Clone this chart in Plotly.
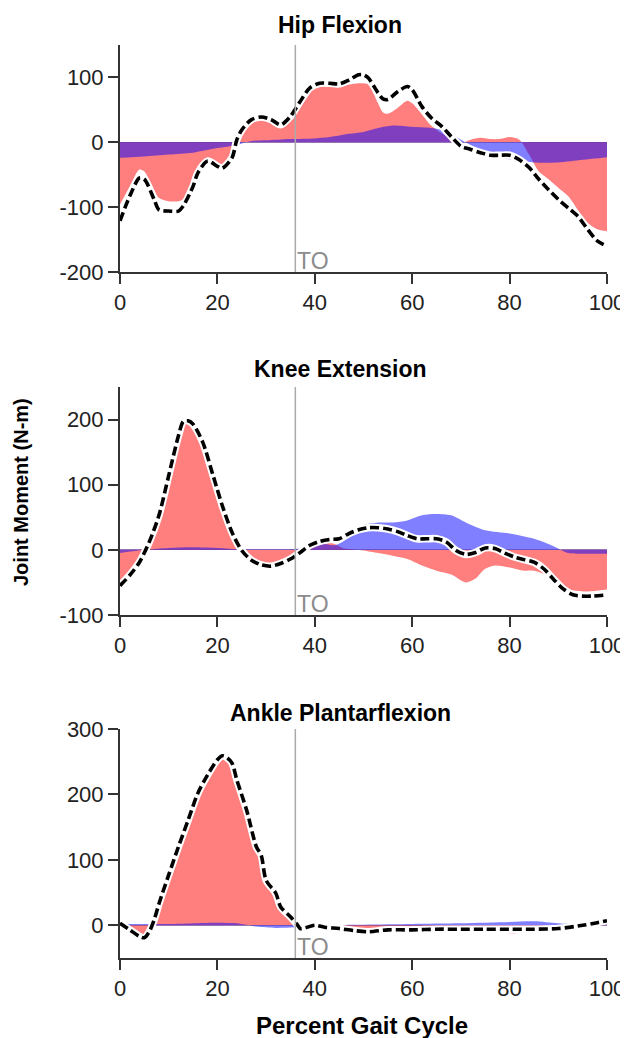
import plotly.graph_objects as go

# ---------------- data ----------------
x_ticks = [0, 20, 40, 60, 80, 100]
toe_off = 36

# Hip Flexion
hip_tot_x = [0,2,4,5,7,8,10,12,13,15,16,18,20,21,23,24,25,27,29,31,33,35,37,39,41,43,45,47,49,50,51,53,54,55,57,59,60,62,64,66,68,70,72,74,76,78,80,82,84,86,88,90,92,94,96,98,100]
hip_tot_y = [-121,-83,-55,-57,-88,-104,-106,-106,-98,-68,-47,-29,-37,-40,-24,4,19,35,39,35,27,40,63,84,91,91,90,96,104,104,99,76,67,66,78,86,81,55,37,25,9,-6,-11,-16,-20,-20,-20,-27,-39,-57,-73,-88,-101,-114,-134,-152,-160]
hip_red_x = [0,2,4,5,7,8,10,12,13,14,16,17,18,20,21,23,24,25,27,29,31,33,35,37,39,41,43,45,47,49,50,51,53,54,55,57,59,60,62,64,66,68,70,72,74,76,78,80,82,84,86,88,90,92,94,96,98,100]
hip_red_y = [-96,-68,-42,-45,-73,-86,-91,-91,-88,-80,-37,-29,-27,-32,-34,-19,4,22,37,39,35,27,37,60,81,88,86,85,89,91,91,89,60,46,44,53,64,60,43,25,14,7,-1,4,7,5,5,8,4,-19,-45,-57,-70,-83,-104,-124,-134,-137]
hip_blue_x = [0,5,10,15,20,24,27,30,35,40,43,47,50,53,56,60,64,67,70,72,75,78,82,85,90,95,100]
hip_blue_y = [-24,-22,-19,-16,-9,-4,2,3,5,6,8,13,16,22,26,24,22,17,4,-4,-14,-24,-28,-31,-31,-27,-23]
hip_ticks = [-200, -100, 0, 100]

# Knee Extension
knee_tot_x = [0,2,4,6,8,10,12,13,14,15,17,19,21,23,25,27,29,31,33,35,37,39,41,43,45,47,49,51,53,55,57,59,61,63,65,67,69,71,73,75,77,79,81,83,85,87,89,91,93,95,97,100]
knee_tot_y = [-55,-39,-19,12,53,114,175,197,198,193,165,117,68,27,-1,-16,-23,-25,-21,-14,-4,7,13,16,17,25,31,34,34,32,28,22,17,17,17,12,-1,-7,-4,3,2,-5,-11,-15,-19,-29,-45,-60,-69,-71,-71,-69]
knee_red_x = [0,2,4,6,8,10,12,13,14,15,17,19,21,23,25,27,29,31,33,35,37,38,40,42,44,46,48,50,53,56,59,62,65,68,71,73,75,77,80,83,85,87,89,91,93,96,100]
knee_red_y = [-50,-36,-18,10,50,110,171,194,195,189,161,114,65,25,-2,-17,-24,-26,-22,-15,-5,2,7,12,9,2,1,-1,-5,-9,-14,-24,-32,-38,-50,-44,-29,-24,-27,-32,-32,-37,-47,-57,-62,-64,-61]
knee_blue_x = [0,5,10,15,20,25,30,35,38,42,44,46,48,50,53,56,59,62,65,68,71,75,80,85,88,90,92,95,100]
knee_blue_y = [-5,0,3,4,3,1,1,1,3,9,7,14,30,38,42,42,45,53,55,53,42,30,25,17,9,2,-5,-6,-6]
knee_ticks = [-100, 0, 100, 200]

# Ankle Plantarflexion
ank_tot_x = [0,2,4,5,6,7,8,10,12,14,16,18,20,21,22,23,24,26,28,29,30,32,33,35,36.5,37,38,40,42,45,48,51,55,60,65,70,75,80,85,90,95,98,100]
ank_tot_y = [3,-7,-17,-19,-10,8,33,77,120,161,202,230,253,259,256,248,222,176,120,107,69,49,28,13,0,-5,-4,0,-3,-5,-8,-10,-7,-7,-6,-6,-6,-6,-6,-5,0,4,7]
ank_red_x = [0,2,4,5,6,7,8,10,12,14,16,18,20,21,22,23,24,26,28,29,30,32,33,35,36.5,40,45,50,55,60,65,70,75,80,85,90,95,100]
ank_red_y = [1,-9,-19,-21,-12,6,31,75,118,159,199,227,250,256,253,245,219,175,121,109,72,52,31,15,2,0,-5,-9,-8,-7,-7,-8,-10,-12,-11,-7,-2,3]
ank_blue_x = [0,10,20,24,28,32,36,40,50,60,70,80,85,90,95,100]
ank_blue_y = [2,2,4,3,-2,-4,-3,0,1,2,3,5,6,3,1,2]
ank_ticks = [0, 100, 200, 300]

titles = ["Hip Flexion", "Knee Extension", "Ankle Plantarflexion"]

# ---------------- layout geometry ----------------
OFF = 8            # page body margin offset
W, H = 628 - OFF, 1038 - OFF
PL, PR = 120, 607  # plot area left/right in page pixels
ML = PL - OFF
MR = W - (PR - OFF)
PW = PR - PL

def py(p):
    return 1 - (p - OFF) / H

def px(p):
    return (p - PL) / PW

panels = [
    dict(tot=(hip_tot_x, hip_tot_y), red=(hip_red_x, hip_red_y), blue=(hip_blue_x, hip_blue_y),
         ticks=hip_ticks, rng=[-200, 150], top=45, bot=272, title_y=25.5),
    dict(tot=(knee_tot_x, knee_tot_y), red=(knee_red_x, knee_red_y), blue=(knee_blue_x, knee_blue_y),
         ticks=knee_ticks, rng=[-100, 250], top=387, bot=615, title_y=368.5),
    dict(tot=(ank_tot_x, ank_tot_y), red=(ank_red_x, ank_red_y), blue=(ank_blue_x, ank_blue_y),
         ticks=ank_ticks, rng=[-50, 300], top=729, bot=958, title_y=713),
]

FONT = "Liberation Sans, Arial, sans-serif"
AX = "#333333"
fig = go.Figure()
annotations = []
shapes = []
layout_axes = {}

for i, p in enumerate(panels):
    n = "" if i == 0 else str(i + 1)
    xa, ya = "x" + n, "y" + n
    fig.add_trace(go.Scatter(x=p["red"][0], y=p["red"][1], mode="lines", line=dict(width=0, shape="spline", smoothing=0.8),
                             fill="tozeroy", fillcolor="rgba(255,0,0,0.5)", xaxis=xa, yaxis=ya, showlegend=False, hoverinfo="skip"))
    fig.add_trace(go.Scatter(x=p["blue"][0], y=p["blue"][1], mode="lines", line=dict(width=0, shape="spline", smoothing=0.8),
                             fill="tozeroy", fillcolor="rgba(0,0,255,0.5)", xaxis=xa, yaxis=ya, showlegend=False, hoverinfo="skip"))
    fig.add_trace(go.Scatter(x=p["tot"][0], y=p["tot"][1], mode="lines", line=dict(width=7.5, color="white", shape="spline", smoothing=0.8),
                             xaxis=xa, yaxis=ya, showlegend=False, hoverinfo="skip"))
    fig.add_trace(go.Scatter(x=p["tot"][0], y=p["tot"][1], mode="lines",
                             line=dict(width=3.6, color="black", dash="9px,4px", shape="spline", smoothing=0.8),
                             xaxis=xa, yaxis=ya, showlegend=False, hoverinfo="skip"))

    dom = [py(p["bot"]), py(p["top"])]
    common = dict(showline=True, linecolor=AX, linewidth=2, ticks="outside", ticklen=10, tickwidth=2,
                  tickcolor=AX, showgrid=False, automargin=False,
                  tickfont=dict(family=FONT, size=22, color="#222"))
    layout_axes["xaxis" + n] = dict(common, range=[0, 100], tickvals=x_ticks, ticktext=[str(v) for v in x_ticks],
                                    zeroline=False, anchor=ya, domain=[0, 1])
    layout_axes["yaxis" + n] = dict(common, range=p["rng"], tickvals=p["ticks"], ticktext=[str(v) for v in p["ticks"]],
                                    zeroline=True, zerolinecolor="rgba(120,110,170,0.7)", zerolinewidth=1,
                                    anchor=xa, domain=dom)
    shapes.append(dict(type="line", xref=xa, yref=ya + " domain", x0=toe_off, x1=toe_off, y0=0, y1=1,
                       line=dict(color="#aaaaaa", width=1.5)))
    annotations.append(dict(xref=xa, yref=ya, x=toe_off, y=p["rng"][0], text="TO", showarrow=False,
                            xanchor="left", yanchor="bottom", yshift=-4,
                            font=dict(family=FONT, size=23, color="#8c8c8c")))
    annotations.append(dict(xref="paper", yref="paper", x=px(340), y=py(p["title_y"]), text="<b>%s</b>" % titles[i],
                            showarrow=False, xanchor="center", yanchor="middle",
                            font=dict(family=FONT, size=23, color="black")))

annotations.append(dict(xref="paper", yref="paper", x=px(362), y=py(1025), text="<b>Percent Gait Cycle</b>", showarrow=False,
                        xanchor="center", yanchor="middle", font=dict(family=FONT, size=24, color="black")))
annotations.append(dict(xref="paper", yref="paper", x=px(21), y=py(492), text="<b>Joint Moment (N-m)</b>", showarrow=False,
                        textangle=-90, xanchor="center", yanchor="middle", font=dict(family=FONT, size=20, color="black")))

fig.update_layout(width=W, height=H, margin=dict(l=ML, r=MR, t=0, b=0, pad=0, autoexpand=False),
                  paper_bgcolor="white", plot_bgcolor="white",
                  annotations=annotations, shapes=shapes, showlegend=False, **layout_axes)

fig.write_html("out.html")
